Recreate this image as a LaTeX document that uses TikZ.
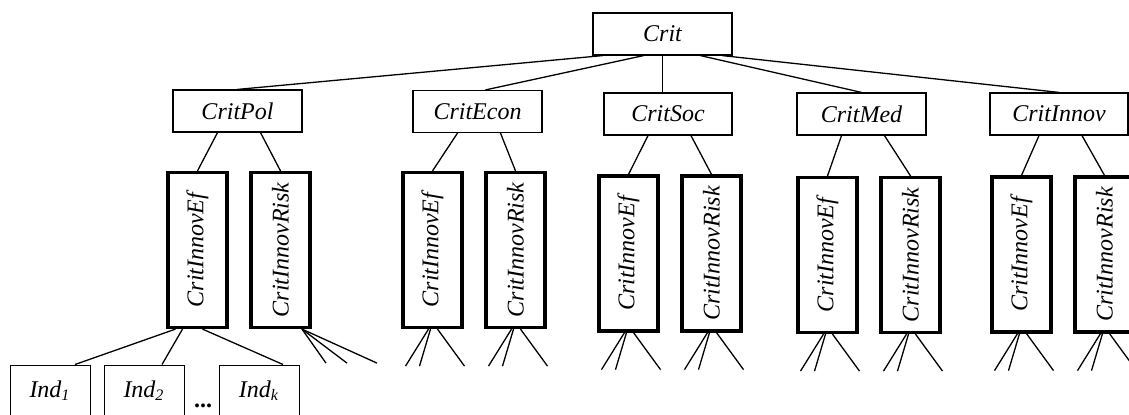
\documentclass[tikz,border=0pt]{standalone}
\usepackage{fontspec}
\setmainfont{Liberation Serif}
\usetikzlibrary{calc}

\tikzset{
  critbox/.style={draw, line width=.6pt, minimum height=21pt, inner sep=0pt,
    font=\fontsize{12pt}{14pt}\selectfont\itshape},
  subbox/.style={draw, line width=1.6pt, minimum width=29.5pt, minimum height=77.5pt,
    inner sep=0pt, font=\fontsize{12pt}{14pt}\selectfont\itshape},
  indbox/.style={draw, line width=.5pt, minimum width=40pt, minimum height=25.5pt,
    inner sep=0pt, font=\fontsize{12pt}{14pt}\selectfont\itshape},
  edge/.style={line width=.65pt},
}

\begin{document}
\begin{tikzpicture}[x=.5pt, y=-.5pt]
\clip (0,0) rectangle (1129,414);
\node[critbox, minimum width=69.5pt] (Crit) at (662.5,34) {Crit};
% second level and its two sub-criteria
\foreach \n/\x/\y/\w/\s/\t/\xe/\ye in {Pol/237.5/111/64.5/-60/0/197.5/250,
    Econ/477.5/111.5/64.5/-19/8/432.5/250, Soc/668/114/64/0/-5.5/628.5/253.5,
    Med/861.5/114/64.5/38/0/827.5/255, Innov/1059/114/69/60/0/1021.5/254.5} {
 \node[critbox, minimum width=\w pt] (\n) at (\x,\y) {Crit\n};
 \node[subbox] (Ef\n) at (\xe,\ye) {\rotatebox{90}{CritInnovEf}};
 \node[subbox] (Risk\n) at ($(Ef\n)+(83,0)$) {\rotatebox{90}{CritInnovRisk}};
 \draw[edge] ($(Crit.south)+(\s,0)$) -- ($(\n.north)+(\t,0)$);
 \draw[edge] ($(\n.south)+(-20,0)$) -- (Ef\n.north);
 \draw[edge] ($(\n.south)+(23,0)$) -- (Risk\n.north);
}
% open branches
\foreach \n in {Econ,Soc,Med,Innov}
 \foreach \b in {Ef,Risk} {
  \draw[edge] ($(\b\n.south)+(-4,0)$) --++(-23,37);
  \draw[edge] ($(\b\n.south)+(-2,0)$) --++(-11,37);
  \draw[edge] ($(\b\n.south)+(5,0)$) --++(27,37);
 }
\foreach \dx in {24,45,75}
 \draw[edge] ($(RiskPol.south)+(21.5,0)$) --++(\dx,34);
% indicators
\node[indbox] (Ind1) at (50,390.5) {Ind\textsubscript{1}};
\node[indbox] (Ind2) at (144,390.5) {Ind\textsubscript{2}};
\node[indbox] (Indk) at (259,390.5) {Ind\textsubscript{k}};
\node[font=\fontsize{12pt}{14pt}\selectfont\bfseries] (dots) at (203,406) {...};
\draw[edge] ($(EfPol.south)+(-22,0)$) -- ($(Ind1.north)+(25,0)$);
\draw[edge] ($(EfPol.south)+(-15,0)$) -- ($(Ind2.north)+(18,0)$);
\draw[edge] ($(EfPol.south)+(5,0)$) -- ($(Indk.north)+(24,0)$);
\end{tikzpicture}
\end{document}
